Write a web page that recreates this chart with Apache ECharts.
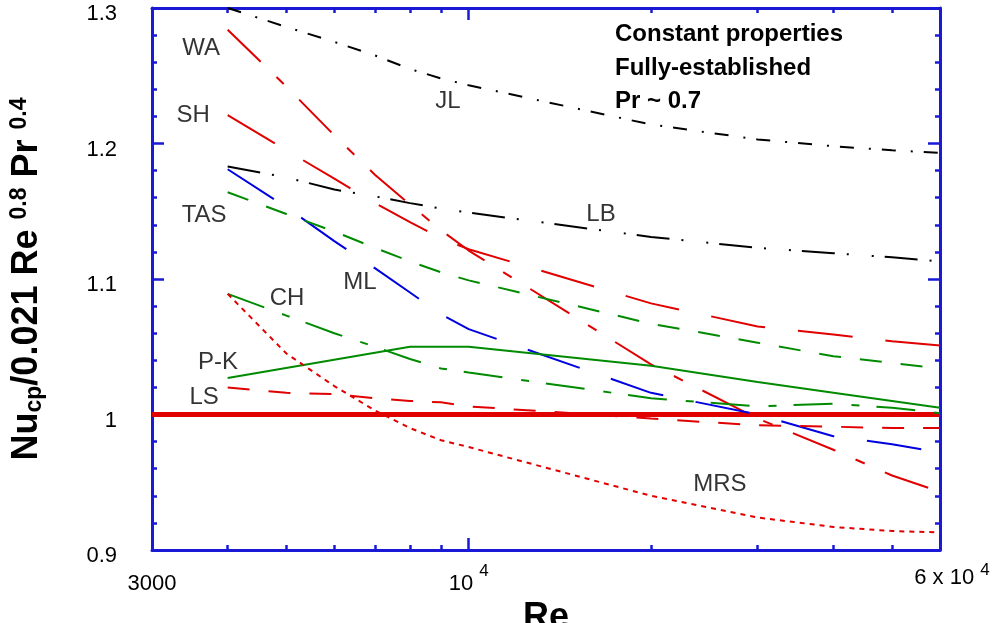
<!DOCTYPE html>
<html><head><meta charset="utf-8">
<script src="https://cdn.jsdelivr.net/npm/echarts@6/dist/echarts.min.js"></script>
<style>html,body{margin:0;padding:0;background:#fff}#chart{width:995px;height:623px}</style>
</head><body><div id="chart"></div>
<script>
// ---- data ----
const reValues = [4000, 5000, 6000, 7000, 8000, 9000, 10000, 20000, 30000, 40000, 50000, 60000];
const JL  = [1.300, 1.286, 1.275, 1.265, 1.255, 1.248, 1.243, 1.214, 1.203, 1.198, 1.195, 1.193];
const LB  = [1.183, 1.175, 1.166, 1.161, 1.156, 1.152, 1.149, 1.131, 1.123, 1.119, 1.116, 1.113];
const WA  = [1.284, 1.242, 1.206, 1.177, 1.155, 1.136, 1.121, 1.037, 0.997, 0.974, 0.955, 0.943];
const SH  = [1.221, 1.195, 1.174, 1.156, 1.142, 1.130, 1.122, 1.082, 1.065, 1.059, 1.054, 1.051];
const TAS = [1.164, 1.148, 1.135, 1.123, 1.113, 1.105, 1.099, 1.067, 1.053, 1.043, 1.038, 1.034];
const ML  = [1.181, 1.153, 1.128, 1.108, 1.090, 1.074, 1.063, 1.016, 1.000, 0.984, 0.978, 0.972];
const CH  = [1.089, 1.073, 1.060, 1.050, 1.041, 1.034, 1.031, 1.012, 1.006, 1.008, 1.005, 1.001];
const LS  = [1.020, 1.016, 1.015, 1.012, 1.010, 1.009, 1.006, 0.997, 0.992, 0.991, 0.990, 0.990];
const MRS = [1.089, 1.045, 1.021, 1.003, 0.990, 0.981, 0.976, 0.940, 0.924, 0.917, 0.914, 0.913];
const pkRe = [4000, 8000, 10000, 20000, 30000, 40000, 60000];
const PK   = [1.027, 1.050, 1.050, 1.036, 1.024, 1.016, 1.005];
const refRe = [3000, 60000];
const REF   = [1, 1];

// ticks / labels
const xLabelValues = [3000, 10000, 60000];
const xMajorTicks = [10000];
const xMinorTicks = [4000, 5000, 6000, 7000, 8000, 9000, 20000, 30000, 40000, 50000];
const yMin = 0.9, yMax = 1.3, yStep = 0.1;

// curve name annotations (anchored in data coordinates)
const curveNames = ['WA', 'SH', 'TAS', 'CH', 'P-K', 'LS', 'ML', 'JL', 'LB', 'MRS'];
const nameRe  = [3615, 3508, 3657, 5013, 3855, 3657, 6611, 9243, 16537, 25993];
const nameVal = [1.2705, 1.221, 1.1472, 1.086, 1.0387, 1.0129, 1.0978, 1.2314, 1.148, 0.9487];
const noteLines = ['Constant properties', 'Fully-established', 'Pr ~ 0.7'];

// ---- chart ----
const AX = '#1a1ad6';
const RED = '#e00000', GREEN = '#008a00', BLUE = '#0000e0', BLACK = '#000000';
const FONT = '"Liberation Sans", Arial, Helvetica, sans-serif';

function pairs(xs, ys) { return xs.map((x, i) => [x, ys[i]]); }

function xAxisDef(position, ticks, tickLen, showLine, showLabel) {
  return {
    type: 'log', logBase: 10, min: 3000, max: 60000, position: position,
    axisLine: { show: showLine, onZero: false, lineStyle: { color: AX, width: 3 } },
    axisTick: { show: true, inside: true, length: tickLen, customValues: ticks, lineStyle: { color: AX, width: 2.5 } },
    minorTick: { show: false },
    splitLine: { show: false },
    axisLabel: showLabel ? {
      show: true, customValues: xLabelValues, margin: 12,
      formatter: function (v) {
        const r = Math.round(v);
        if (Math.abs(r - 3000) < 1) return '{n|3000}';
        if (Math.abs(r - 10000) < 1) return '{n|10 }{s|4}';
        return '{m|6 x 10 }{ms|4}';
      },
      rich: {
        n: { fontSize: 22, fontFamily: FONT, color: '#000', padding: [11, 0, 0, 0] },
        s: { fontSize: 17, fontFamily: FONT, color: '#000', padding: [0, 0, 14, 0] },
        m: { fontSize: 22, fontFamily: FONT, color: '#000', padding: [0, 0, 0, 24] },
        ms: { fontSize: 17, fontFamily: FONT, color: '#000', padding: [0, 0, 14, 0] }
      }
    } : { show: false },
    name: showLabel ? 'Re' : '',
    nameLocation: 'middle', nameGap: 29,
    nameTextStyle: { fontSize: 36, fontWeight: 'bold', fontFamily: FONT, color: '#000' }
  };
}

function yAxisDef(position, showLabel) {
  return {
    type: 'value', min: yMin, max: yMax, interval: yStep, position: position,
    axisLine: { show: true, onZero: false, lineStyle: { color: AX, width: 3 } },
    axisTick: { show: true, inside: true, length: 12, lineStyle: { color: AX, width: 2.5 } },
    minorTick: { show: true, splitNumber: 5, length: 5, lineStyle: { color: AX, width: 2.5 } },
    splitLine: { show: false },
    axisLabel: showLabel ? {
      show: true, margin: 35,
      formatter: v => '{a|' + String(parseFloat(v.toFixed(2))) + '}',
      rich: { a: { fontSize: 22, fontFamily: FONT, color: '#000', padding: [12, 0, 0, 0] } }
    } : { show: false },
    name: showLabel ? '{n|Nu}{sub|cp}{n|/0.021 Re }{sup|0.8}{n| Pr }{sup|0.4}' : '',
    nameLocation: 'middle', nameRotate: 90, nameGap: 105,
    nameTextStyle: {
      rich: {
        n: { fontSize: 36, fontWeight: 'bold', fontFamily: FONT, color: '#000' },
        sub: { fontSize: 23, fontWeight: 'bold', fontFamily: FONT, color: '#000', padding: [14, 0, 0, 0] },
        sup: { fontSize: 23, fontWeight: 'bold', fontFamily: FONT, color: '#000', padding: [0, 0, 16, 0] }
      }
    }
  };
}

function lineSeries(name, data, color, dash, width) {
  return {
    name: name, type: 'line', xAxisIndex: 0, yAxisIndex: 0,
    data: data, showSymbol: false, symbol: 'none', silent: true,
    lineStyle: { color: color, width: width || 2, type: dash || 'solid', cap: 'butt' },
    emphasis: { disabled: true }, z: 3
  };
}

const chart = echarts.init(document.getElementById('chart'), null, { renderer: 'canvas' });
chart.setOption({
  animation: false,
  backgroundColor: '#ffffff',
  grid: { left: 152, right: 55, top: 8, bottom: 73, containLabel: false, outerBoundsMode: 'none' },
  xAxis: [
    xAxisDef('bottom', xMajorTicks, 12, true, true),
    xAxisDef('bottom', xMinorTicks, 5, false, false),
    xAxisDef('top', xMajorTicks, 12, true, false),
    xAxisDef('top', xMinorTicks, 5, false, false)
  ],
  yAxis: [yAxisDef('left', true), yAxisDef('right', false)],
  series: [
    Object.assign(lineSeries('ref', pairs(refRe, REF), RED, 'solid', 5), { z: 2 }),
    lineSeries('JL', pairs(reValues, JL), BLACK, [14, 15, 2, 11]),
    lineSeries('LB', pairs(reValues, LB), BLACK, [33, 12, 2, 23, 2, 11]),
    lineSeries('WA', pairs(reValues, WA), RED, [46, 22, 10, 22]),
    lineSeries('SH', pairs(reValues, SH), RED, [55, 33]),
    lineSeries('ML', pairs(reValues, ML), BLUE, [55, 33]),
    lineSeries('TAS', pairs(reValues, TAS), GREEN, [22, 19]),
    lineSeries('LS', pairs(reValues, LS), RED, [22, 19]),
    lineSeries('CH', pairs(reValues, CH), GREEN, [39, 19, 8, 17]),
    lineSeries('P-K', pairs(pkRe, PK), GREEN, 'solid'),
    lineSeries('MRS', pairs(reValues, MRS), RED, [5, 5]),
    {
      type: 'scatter', xAxisIndex: 0, yAxisIndex: 0, silent: true, symbolSize: 0,
      data: nameRe.map((r, i) => [r, nameVal[i], curveNames[i]]),
      label: {
        show: true, position: 'inside', formatter: p => p.data[2],
        fontSize: 24, fontFamily: FONT, color: '#000'
      },
      emphasis: { disabled: true }, z: 5
    }
  ],
  graphic: [{
    type: 'text', left: 615, top: 18, silent: true,
    style: {
      text: noteLines.join('\n'), font: 'bold 24px ' + FONT, lineHeight: 33.5, fill: '#000'
    }
  }]
});
</script>
</body></html>
